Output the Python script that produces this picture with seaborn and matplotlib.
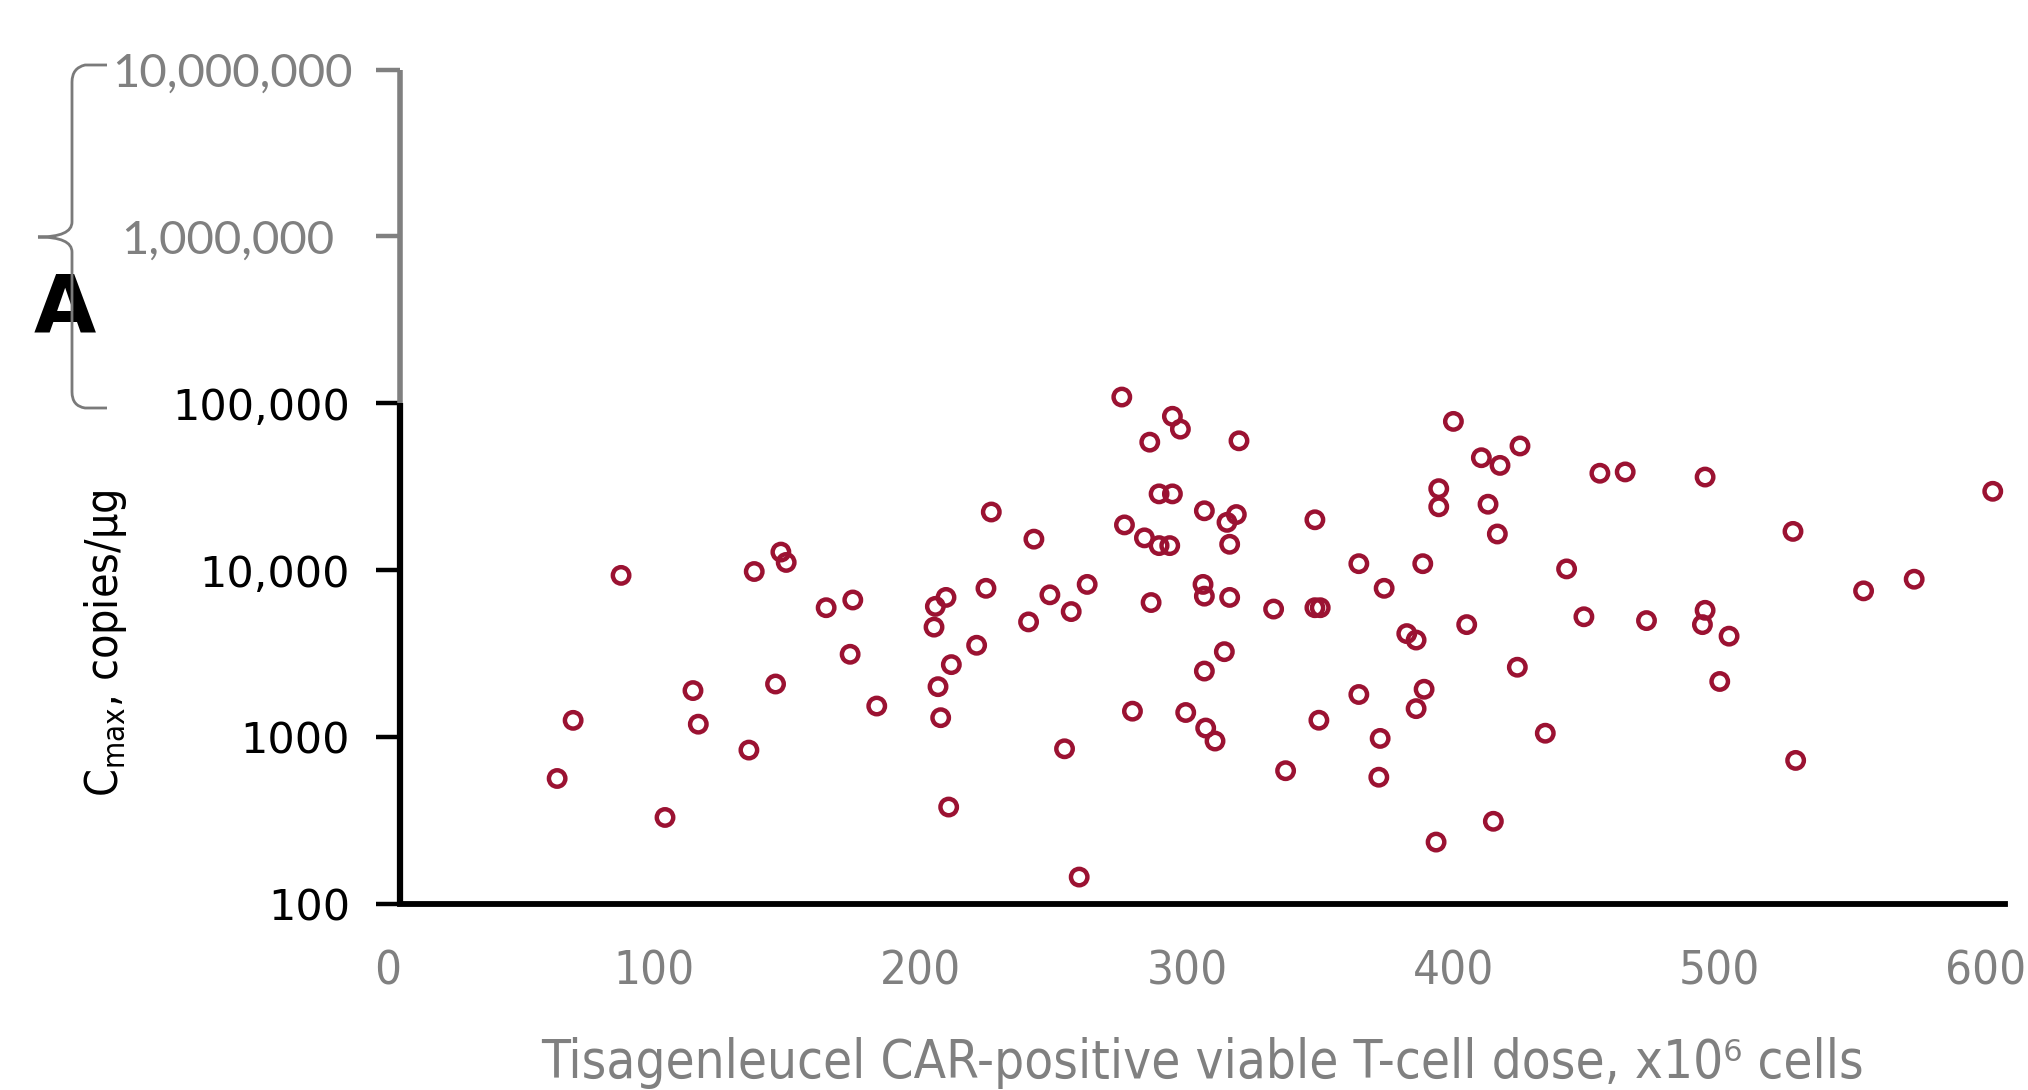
import numpy as np
import pandas as pd
import matplotlib
matplotlib.use("Agg")
import matplotlib.pyplot as plt
from matplotlib.path import Path
from matplotlib.patches import PathPatch
from matplotlib.transforms import ScaledTranslation
import seaborn as sns

###### Data
dose = [59, 65, 83, 99.5, 110, 112, 131, 133, 141, 143, 145, 160, 169, 170, 179,
        200.5, 201, 202, 203, 205, 207, 206, 216.5, 220, 222, 236, 238, 244, 249.5, 252,
        255, 258, 271, 272, 275, 279.5, 281.5, 282, 285, 285, 289, 290, 290, 293, 295,
        302, 301.5, 302, 302, 302.5, 306, 309.5, 310.5, 311.5, 311.5, 314, 315, 328, 332.5, 343.5,
        343.5, 345.5, 345, 360, 360, 367.5, 368, 369.5, 378, 381.5, 381.5, 384, 384.5, 389, 390,
        390, 395.5, 400.5, 406, 408.5, 410.5, 412, 413, 419.5, 420.5, 430, 438, 444.5, 450.5, 460,
        468, 489, 490, 490, 495.5, 499, 523, 524, 549.5, 568.5, 598]
cmax = [565, 1260, 9310, 330, 1900, 1195, 836, 9820, 2080, 12840, 11130, 5960, 3135, 6630, 1535,
        4560, 6070, 2005, 1307, 6870, 2718, 381, 3550, 7790, 22320, 4900, 15350, 7120, 851, 5650,
        145, 8220, 109000, 18680, 1430, 15620, 58500, 6400, 28660, 14040, 14040, 83600, 28660, 70000, 1404,
        22700, 8220, 6990, 2487, 1133, 947, 3250, 19350, 14300, 6870, 21550, 59600, 5850, 629, 20050,
        5960, 5960, 1262, 10940, 1800, 575, 982, 7790, 4170, 3815, 1481, 10940, 1935, 235, 30800,
        23980, 77900, 4720, 47200, 24850, 313, 16480, 42460, 2622, 55500, 1055, 10180, 5260, 38100, 38800,
        4990, 4720, 5750, 36150, 2154, 4025, 17080, 725, 7520, 8830, 29700]

xticks = [0, 100, 200, 300, 400, 500, 600]
yticks = [1e2, 1e3, 1e4, 1e5, 1e6, 1e7]
ytick_labels = ["100", "1000", "10,000", "100,000", "1,000,000", "10,000,000"]

df = pd.DataFrame({"dose": dose, "cmax": cmax})

W, H = 2028, 1090
RED = "#9B1232"
GRAY = "#808080"

sns.set_style("white")
plt.rcParams["mathtext.fontset"] = "custom"
plt.rcParams["mathtext.rm"] = "DejaVu Sans:stretch=condensed"
plt.rcParams["mathtext.it"] = "DejaVu Sans:stretch=condensed"

fig = plt.figure(figsize=(W / 100, H / 100), dpi=100)
ax = fig.add_axes([400 / W, 1 - 904 / H, 1605 / W, 834.5 / H])

sns.scatterplot(data=df, x="dose", y="cmax", ax=ax, marker="o", s=140,
                facecolor="none", edgecolor=RED, linewidth=3.2, legend=False)

ax.set_yscale("log")
ax.set_xlim(0, 602.6)
ax.set_ylim(100, 1e7)
ax.minorticks_off()

# spines: black bottom, split left axis (black lower part, gray pasted upper part)
for s in ["top", "right", "left"]:
    ax.spines[s].set_visible(False)
ax.spines["bottom"].set_linewidth(4.2)
ax.spines["bottom"].set_color("black")
ax.vlines(0, 1e5, 1e7, color=GRAY, lw=4.0, clip_on=False, zorder=3)
ax.vlines(0, 100, 1e5, color="black", lw=4.5, clip_on=False, zorder=4)

ax.set_xticks(xticks)
ax.set_xticklabels([str(t) for t in xticks])
ax.tick_params(axis="x", direction="out", length=15, width=2.5, color="black",
               pad=18, labelsize=34, labelcolor=GRAY)

ax.set_yticks(yticks)
ax.set_yticklabels(ytick_labels)
ax.tick_params(axis="y", direction="out", length=17, width=3.2, color="black",
               pad=19, labelsize=31, left=True)
for tick, val in zip(ax.yaxis.get_major_ticks(), yticks):
    if val >= 1e6:
        tick.tick1line.set_markeredgecolor(GRAY)
        tick.tick1line.set_markeredgewidth(2.0)
        tick.tick1line.set_markersize(13)
        tick.label1.set_color(GRAY)
        tick.label1.set_family(["Lato", "DejaVu Sans"])
        tick.label1.set_fontsize(34)
        tick.set_pad(17 if val == 1e7 else 30)
    else:
        tick.label1.set_family("DejaVu Sans")
        tick.label1.set_color("black")

# x tick labels sit a little left of their ticks in the original
shift = ScaledTranslation(-12 / 100, 0, fig.dpi_scale_trans)
for tick in ax.xaxis.get_major_ticks():
    tick.label1.set_family("DejaVu Sans")
    tick.label1.set_stretch("condensed")
    tick.label1.set_transform(tick.label1.get_transform() + shift)

ax.set_xlabel("Tisagenleucel CAR-positive viable T-cell dose, x10\u2076 cells",
              fontsize=38, color=GRAY, family="DejaVu Sans", fontstretch="condensed")
ax.xaxis.set_label_coords(0.5, -0.159)
ax.set_ylabel("C$_{\\mathrm{max}}$, copies/\u03bcg", fontsize=32, color="black",
              family="DejaVu Sans", fontstretch="condensed")
ax.yaxis.set_label_coords(-0.169, 0.313)

# panel letter and brace
fig.text(65 / W, 1 - 311 / H, "A", fontsize=58, fontweight="bold", color="black",
         family="DejaVu Sans", ha="center", va="center")

pts = [(107, 65), (85, 65), (72, 68), (72, 82), (72, 222), (72, 237), (38, 237),
       (72, 237), (72, 252), (72, 392), (72, 406), (85, 408), (107, 408)]
codes = [Path.MOVETO, Path.LINETO, Path.CURVE3, Path.CURVE3, Path.LINETO, Path.CURVE3,
         Path.CURVE3, Path.CURVE3, Path.CURVE3, Path.LINETO, Path.CURVE3, Path.CURVE3, Path.LINETO]
verts = [(px / W, 1 - py / H) for px, py in pts]
brace = PathPatch(Path(verts, codes), transform=fig.transFigure, facecolor="none",
                  edgecolor="#7a7a7a", lw=2.0, zorder=5)
fig.patches.append(brace)

fig.savefig("out.png", dpi=100, facecolor="white")
